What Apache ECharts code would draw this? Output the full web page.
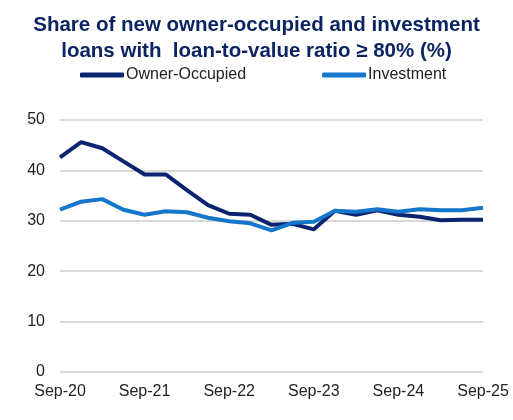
<!DOCTYPE html>
<html lang="en">
<head>
	<meta charset="UTF-8">
	<title></title>
	<script src="https://cdn.jsdelivr.net/npm/echarts@6/dist/echarts.min.js" type="text/javascript"></script>
	<style>
		body{ margin:0; background:#fff; }
	</style>
</head>
<body>
	<div id="main" style="width: 513px;height:420px;"></div>
</body>
</html>

<script type="text/javascript">
var quarters = ['Sep-20','Dec-20','Mar-21','Jun-21','Sep-21','Dec-21','Mar-22','Jun-22','Sep-22','Dec-22',
	'Mar-23','Jun-23','Sep-23','Dec-23','Mar-24','Jun-24','Sep-24','Dec-24','Mar-25','Jun-25','Sep-25'];
var ownerOccupied = [42.6,45.6,44.4,41.8,39.2,39.2,36.1,33.1,31.4,31.2,29.2,29.4,28.3,32.0,31.2,32.1,31.2,30.8,30.1,30.2,30.2];
var investment = [32.2,33.8,34.3,32.2,31.2,31.9,31.7,30.6,29.9,29.5,28.1,29.6,29.8,32.0,31.8,32.3,31.8,32.3,32.1,32.1,32.6];
var yTicks = [0,10,20,30,40,50];

var mychart = echarts.init(document.getElementById("main"));

var option = {
	animation: false,
	title: {
		text: 'Share of new owner-occupied and investment\nloans with  loan-to-value ratio \u2265 80% (%)',
		left: 'center',
		top: 7,
		textStyle: {
			fontFamily: 'Liberation Sans',
			fontSize: 20.5,
			fontWeight: 'bold',
			color: '#0d2463',
			lineHeight: 26
		}
	},
	legend: {
		orient: 'horizontal',
		top: 62,
		left: 75,
		width: 430,
		itemGap: 76,
		itemWidth: 44,
		itemHeight: 5,
		icon: 'roundRect',
		textStyle: { fontFamily: 'Liberation Sans', fontSize: 16, color: '#222', padding: [0,0,0,-3] },
		data: ['Owner-Occupied','Investment']
	},
	grid: { left: 60, right: 30, top: 120, bottom: 48 },
	xAxis: {
		type: 'category',
		data: quarters,
		boundaryGap: false,
		axisLine: { show: false },
		axisTick: { show: false },
		axisLabel: {
			interval: 3,
			margin: 12,
			fontFamily: 'Liberation Sans',
			fontSize: 16,
			color: '#222'
		}
	},
	yAxis: {
		type: 'value',
		min: yTicks[0],
		max: yTicks[yTicks.length - 1],
		interval: 10,
		axisLine: { show: false },
		axisTick: { show: false },
		axisLabel: { margin: 15, fontFamily: 'Liberation Sans', fontSize: 16, color: '#222' },
		splitLine: { lineStyle: { color: '#d9d9d9', width: 2 } }
	},
	series: [
		{
			name: 'Owner-Occupied',
			type: 'line',
			data: ownerOccupied,
			symbol: 'none',
			lineStyle: { width: 4, color: '#0b2470' },
			itemStyle: { color: '#0b2470' }
		},
		{
			name: 'Investment',
			type: 'line',
			data: investment,
			symbol: 'none',
			lineStyle: { width: 4, color: '#1477cc' },
			itemStyle: { color: '#1477cc' }
		}
	]
};
mychart.setOption(option);
</script>
